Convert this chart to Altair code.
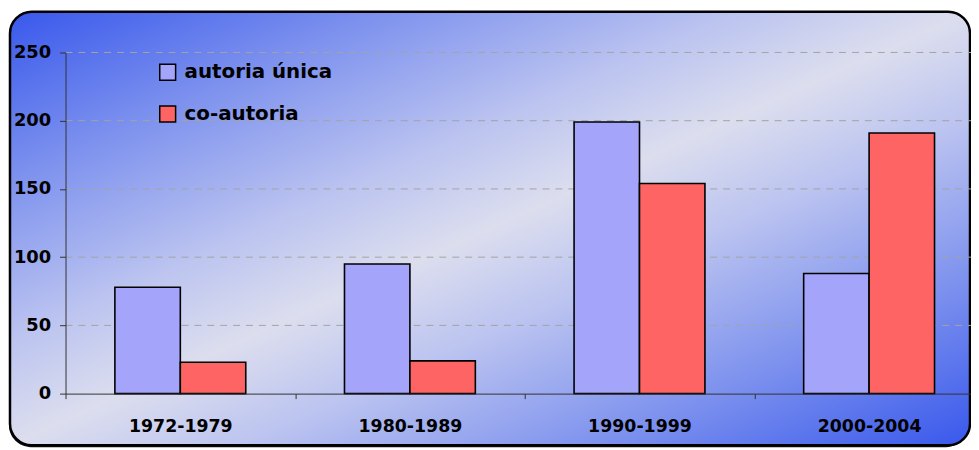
import altair as alt
import pandas as pd

# ---- data ----
periods = ["1972-1979", "1980-1989", "1990-1999", "2000-2004"]
series = ["autoria única", "co-autoria"]
autoria_unica = [78, 95, 199, 88]
co_autoria = [23, 24, 154, 191]
y_ticks = [0, 50, 100, 150, 200, 250]
series_colors = ["#a4a4fb", "#ff6464"]

rows = []
for p, a, c in zip(periods, autoria_unica, co_autoria):
    rows.append({"periodo": p, "serie": series[0], "valor": a})
    rows.append({"periodo": p, "serie": series[1], "valor": c})
df = pd.DataFrame(rows)
grid_df = pd.DataFrame({"valor": y_ticks[1:]})

FONT = "DejaVu Sans"
PLOT_W = 913      # visible plot width (svg is clipped at the window edge)
RANGE_W = 926     # full category range, as in the reference (runs past the frame)
PLOT_H = 344
SLOT = RANGE_W / len(periods)

one = pd.DataFrame({"k": [0]})

gradient = alt.LinearGradient(
    gradient="linear", x1=0, y1=0, x2=1, y2=1,
    stops=[
        alt.GradientStop(color="#3858ec", offset=0.0),
        alt.GradientStop(color="#7f93ee", offset=0.2),
        alt.GradientStop(color="#bcc4f0", offset=0.38),
        alt.GradientStop(color="#dcdeee", offset=0.5),
        alt.GradientStop(color="#bcc4f0", offset=0.62),
        alt.GradientStop(color="#7f93ee", offset=0.8),
        alt.GradientStop(color="#3858ec", offset=1.0),
    ],
)

yscale = alt.Scale(domain=[0, 250], nice=False)
y_axis = alt.Axis(
    values=y_ticks, labelFont=FONT, labelFontSize=18, labelFontWeight="bold",
    labelColor="black", tickSize=6, tickColor="#333333", domainColor="#333333",
    labelPadding=9, grid=False, zindex=1,
)

shadow = alt.Chart(one).mark_rect(cornerRadius=22, fill="#111111").encode(
    x=alt.value(-57), x2=alt.value(910), y=alt.value(-39), y2=alt.value(398)
)
frame = alt.Chart(one).mark_rect(
    cornerRadius=22, stroke="black", strokeWidth=2.5, fill=gradient
).encode(
    x=alt.value(-56), x2=alt.value(912), y=alt.value(-41), y2=alt.value(396)
)

grid = alt.Chart(grid_df).mark_rule(
    color="#a3a3a3", strokeWidth=1, strokeDash=[7, 6]
).encode(
    y=alt.Y("valor:Q", title=None, scale=yscale, axis=y_axis),
    x=alt.value(0), x2=alt.value(RANGE_W),
)

bars = alt.Chart(df).mark_bar(stroke="black", strokeWidth=1.6, opacity=1).encode(
    x=alt.X(
        "periodo:N", sort=periods, title=None,
        scale=alt.Scale(range=[0, RANGE_W], paddingInner=0.43, paddingOuter=0.215),
        axis=alt.Axis(
            labelFont=FONT, labelFontSize=17.5, labelFontWeight="bold", labelColor="black",
            labelAngle=0, tickSize=5, tickColor="#333333", domainColor="#333333",
            tickOffset=-SLOT / 2, labelOffset=SLOT / 2, labelPadding=19, grid=False,
            zindex=1,
        ),
    ),
    xOffset=alt.XOffset("serie:N", sort=series),
    y=alt.Y("valor:Q", title=None, scale=yscale, axis=y_axis),
    color=alt.Color(
        "serie:N",
        scale=alt.Scale(domain=series, range=series_colors),
        legend=alt.Legend(
            title=None, orient="none", legendX=93, legendY=10, direction="vertical",
            symbolType="square", symbolSize=256, symbolStrokeColor="black",
            symbolStrokeWidth=1.5, symbolOpacity=1, labelFont=FONT, labelFontSize=20,
            labelFontWeight="bold", labelColor="black", labelOffset=7, rowPadding=20,
        ),
    ),
)

chart = alt.layer(shadow, frame, grid, bars).properties(
    width=PLOT_W, height=PLOT_H,
    autosize=alt.AutoSizeParams(type="none"),
    padding={"left": 58, "top": 43, "right": 0, "bottom": 54},
    background="white",
).configure_view(stroke=None)

chart.save("out.html", embed_options={"renderer": "svg", "actions": False})
